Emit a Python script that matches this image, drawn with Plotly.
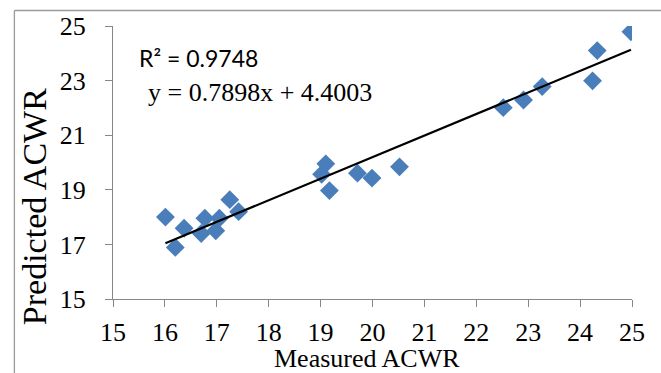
import plotly.graph_objects as go

# Data
measured = [16.01, 16.20, 16.37, 16.70, 16.77, 16.98, 17.05, 17.25, 17.42,
            19.02, 19.10, 19.17, 19.71, 19.99, 20.52,
            22.52, 22.91, 23.27, 24.24, 24.33, 24.98]
predicted = [18.00, 16.89, 17.59, 17.40, 17.96, 17.50, 17.96, 18.64, 18.20,
             19.57, 19.95, 18.97, 19.61, 19.43, 19.84,
             22.01, 22.29, 22.78, 22.99, 24.10, 24.79]
SLOPE = 0.7898
INTERCEPT = 4.4003
R2 = 0.9748
x_ticks = list(range(15, 26, 1))
y_ticks = list(range(15, 26, 2))

serif = "Liberation Serif, Times New Roman, serif"
axis_col = "#868686"
border_col = "#9a9a9a"

x_line = [min(measured), max(measured)]
y_line = [SLOPE * v + INTERCEPT for v in x_line]

fig = go.Figure()
fig.add_trace(go.Scatter(
    x=measured, y=predicted, mode="markers",
    marker=dict(symbol="diamond", size=14.5, color="#4A7EBB", line=dict(width=0)),
    showlegend=False, hoverinfo="x+y"))
fig.add_trace(go.Scatter(
    x=x_line, y=y_line, mode="lines",
    line=dict(color="black", width=2.2), showlegend=False, hoverinfo="skip"))

fig.update_layout(
    width=661, height=373,
    margin=dict(l=113, r=29, t=23, b=74),
    paper_bgcolor="white", plot_bgcolor="white",
    xaxis=dict(range=[15, 25], tickvals=x_ticks, showgrid=False, zeroline=False,
               showline=True, linecolor=axis_col, linewidth=1.3,
               ticks="outside", ticklen=7, tickcolor=axis_col, tickwidth=1.3,
               tickfont=dict(family=serif, size=26, color="black"),
               ticklabelstandoff=3),
    yaxis=dict(range=[15, 25], tickvals=y_ticks, showgrid=False, zeroline=False,
               showline=True, linecolor=axis_col, linewidth=1.3,
               ticks="outside", ticklen=7, tickcolor=axis_col, tickwidth=1.3,
               tickfont=dict(family=serif, size=26, color="black"),
               ticklabelstandoff=14),
    annotations=[
        dict(text="Measured ACWR", xref="paper", yref="paper", x=0.489, y=-0.219,
             xanchor="center", yanchor="middle", showarrow=False,
             font=dict(family=serif, size=26, color="black")),
        dict(text="Predicted ACWR", xref="paper", yref="paper", x=-0.150, y=0.337,
             xanchor="center", yanchor="middle", textangle=-90, showarrow=False,
             font=dict(family=serif, size=34, color="black")),
        dict(text=f"R² = {R2}", xref="paper", yref="paper", x=0.046, y=0.884,
             xanchor="left", yanchor="middle", showarrow=False,
             font=dict(family="Lato, Carlito, sans-serif", size=23, color="black")),
        dict(text=f"y = {SLOPE}x + {INTERCEPT}", xref="paper", yref="paper", x=0.064, y=0.757,
             xanchor="left", yanchor="middle", showarrow=False,
             font=dict(family=serif, size=26, color="black")),
    ],
)
# Outer chart-area border (cropped at right and bottom in the reference)
fig.add_shape(type="line", xref="paper", yref="paper",
              x0=-0.190, x1=1.1, y0=1.0568, y1=1.0568,
              line=dict(color=border_col, width=1.3), layer="above")
fig.add_shape(type="line", xref="paper", yref="paper",
              x0=-0.190, x1=-0.190, y0=-0.3, y1=1.0568,
              line=dict(color=border_col, width=1.3), layer="above")

fig.write_html("out.html")
